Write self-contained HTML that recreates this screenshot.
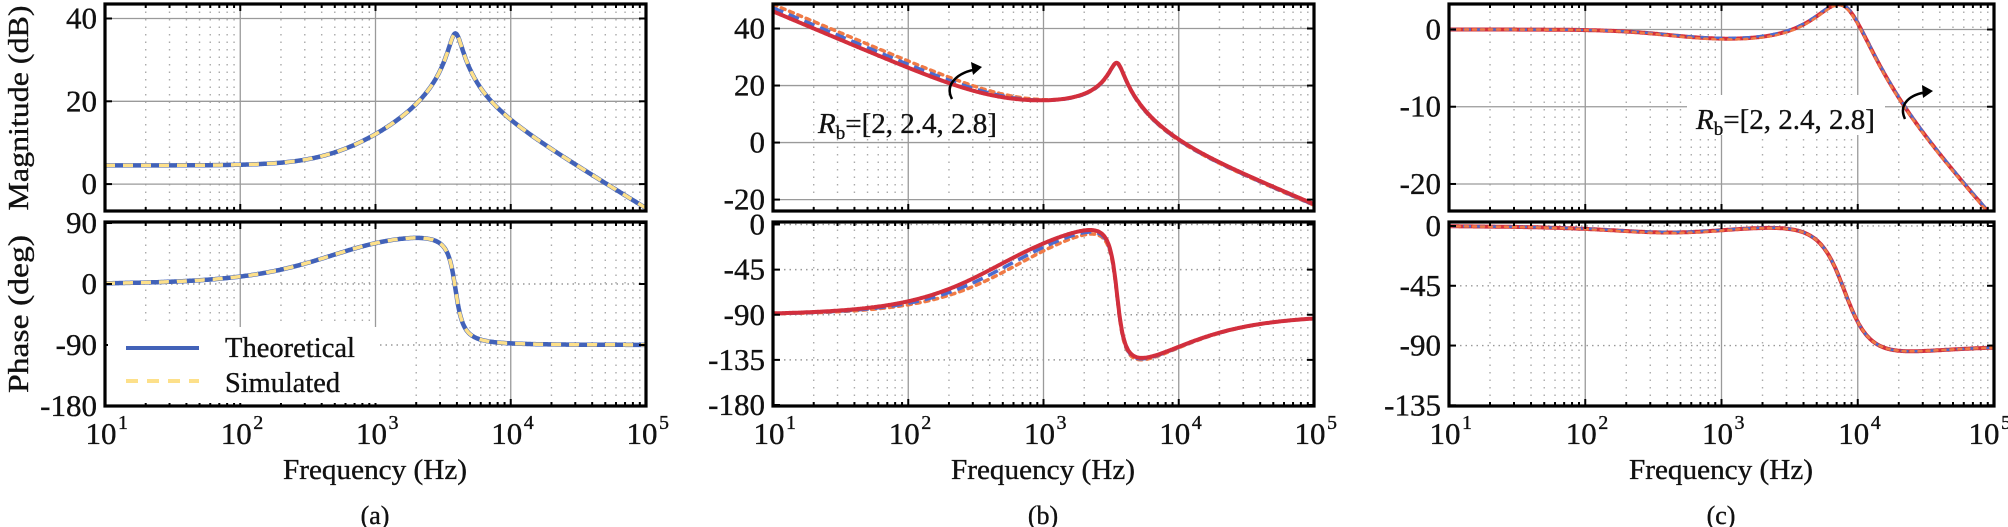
<!DOCTYPE html>
<html><head><meta charset="utf-8">
<style>
html,body{margin:0;padding:0;background:#fff;}
svg{display:block;font-family:"Liberation Serif","Times New Roman","DejaVu Serif","Noto Serif CJK SC",serif;}
svg text{font-family:"Liberation Serif","Times New Roman","DejaVu Serif","Noto Serif CJK SC",serif;fill:#111;stroke:#111;stroke-width:0.35;}
</style></head>
<body>
<svg id="s" width="2008" height="527" xmlns="http://www.w3.org/2000/svg">
<defs>
<clipPath id="ca1"><rect x="105" y="4" width="541" height="207"/></clipPath>
<clipPath id="ca2"><rect x="105" y="222" width="541" height="184"/></clipPath>
<clipPath id="cb1"><rect x="773" y="4" width="541" height="207"/></clipPath>
<clipPath id="cb2"><rect x="773" y="222" width="541" height="184"/></clipPath>
<clipPath id="cc1"><rect x="1449" y="4" width="545" height="207"/></clipPath>
<clipPath id="cc2"><rect x="1449" y="222" width="545" height="184"/></clipPath>
</defs>
<g id="grid"></g>
<g id="curves"></g>
<g id="frames"></g>

<rect x="108" y="327" width="272" height="76" fill="#fff"/>
<line x1="126" y1="348" x2="199" y2="348" stroke="#4262b8" stroke-width="4"/>
<line x1="126" y1="381" x2="199" y2="381" stroke="#fde08a" stroke-width="4" stroke-dasharray="12,9"/>
<text x="225" y="357" font-size="28" textLength="130" lengthAdjust="spacingAndGlyphs">Theoretical</text>
<text x="225" y="392" font-size="28" textLength="115" lengthAdjust="spacingAndGlyphs">Simulated</text>

<text x="818" y="133" font-size="29"><tspan font-style="italic">R</tspan><tspan font-size="19" dy="6">b</tspan><tspan dy="-6">=[2, 2.4, 2.8]</tspan></text>
<path d="M952,99 C944,84 958,72 978,69" fill="none" stroke="#000" stroke-width="2.5"/>
<polygon points="982,67 971,62 973,75" fill="#000"/>
<rect x="1687" y="95" width="198" height="40" fill="#fff"/>
<text x="1696" y="129" font-size="29"><tspan font-style="italic">R</tspan><tspan font-size="19" dy="6">b</tspan><tspan dy="-6">=[2, 2.4, 2.8]</tspan></text>
<path d="M1905,119 C1898,104 1910,94 1928,92" fill="none" stroke="#000" stroke-width="2.5"/>
<polygon points="1933,91 1922,85 1923,98" fill="#000"/>

<text transform="translate(28,108) rotate(-90)" font-size="28" text-anchor="middle" textLength="205" lengthAdjust="spacingAndGlyphs">Magnitude (dB)</text>
<text transform="translate(28,314) rotate(-90)" font-size="28" text-anchor="middle" textLength="158" lengthAdjust="spacingAndGlyphs">Phase (deg)</text>
<text x="375" y="479" font-size="28" text-anchor="middle" textLength="184" lengthAdjust="spacingAndGlyphs">Frequency (Hz)</text>
<text x="1043" y="479" font-size="28" text-anchor="middle" textLength="184" lengthAdjust="spacingAndGlyphs">Frequency (Hz)</text>
<text x="1721" y="479" font-size="28" text-anchor="middle" textLength="184" lengthAdjust="spacingAndGlyphs">Frequency (Hz)</text>
<text x="375" y="524" font-size="26" text-anchor="middle">(a)</text>
<text x="1043" y="524" font-size="26" text-anchor="middle">(b)</text>
<text x="1721" y="524" font-size="26" text-anchor="middle">(c)</text>
<g id="ticks"></g>
</svg>
<script>
(function(){
var NS="http://www.w3.org/2000/svg";
function el(p,t,a){var e=document.createElementNS(NS,t);for(var k in a)e.setAttribute(k,a[k]);p.appendChild(e);return e;}
var grid=document.getElementById('grid'),cur=document.getElementById('curves'),fr=document.getElementById('frames'),tk=document.getElementById('ticks');
var panels=[
 {x0:105,x1:646,top:{y0:4,y1:211,vt:43.5,vb:-6.5,ticks:[40,20,0],solid:true},bot:{y0:222,y1:406,vt:91.5,vb:-180,ticks:[90,0,-90,-180],solid:false},c1:'ca1',c2:'ca2',lx:97},
 {x0:773,x1:1314,top:{y0:4,y1:211,vt:48.6,vb:-24,ticks:[40,20,0,-20],solid:true},bot:{y0:222,y1:406,vt:2.5,vb:-181,ticks:[0,-45,-90,-135,-180],solid:false},c1:'cb1',c2:'cb2',lx:765},
 {x0:1449,x1:1994,top:{y0:4,y1:211,vt:3.3,vb:-23.5,ticks:[0,-10,-20],solid:true},bot:{y0:222,y1:406,vt:3,vb:-135.5,ticks:[0,-45,-90,-135],solid:false},c1:'cc1',c2:'cc2',lx:1441}
];
function X(p,f){return p.x0+(Math.log10(f)-1)/4*(p.x1-p.x0);}
function Y(a,v){return a.y0+(a.vt-v)/(a.vt-a.vb)*(a.y1-a.y0);}
panels.forEach(function(p,pi){
 [p.top,p.bot].forEach(function(a,ai){
  for(var d=1;d<5;d++)for(var m=1;m<10;m++){
   var f=m*Math.pow(10,d);var x=X(p,f);
   if(m==1){ if(d>1) el(grid,'line',{x1:x,y1:a.y0,x2:x,y2:a.y1,stroke:'#9a9a9a','stroke-width':1.3});}
   else el(grid,'line',{x1:x,y1:a.y0,x2:x,y2:a.y1,stroke:'#aaa','stroke-width':1.4,'stroke-dasharray':'1.5,6'});
   var L=(m==1)?7:4;
   el(fr,'line',{x1:x,y1:a.y0,x2:x,y2:a.y0+L,stroke:'#000','stroke-width':2});
   el(fr,'line',{x1:x,y1:a.y1,x2:x,y2:a.y1-L,stroke:'#000','stroke-width':2});
  }
  a.ticks.forEach(function(v){
   var y=Y(a,v);
   if(y>a.y0+2&&y<a.y1-2){
    if(a.solid) el(grid,'line',{x1:p.x0,y1:y,x2:p.x1,y2:y,stroke:'#9a9a9a','stroke-width':1.3});
    else el(grid,'line',{x1:p.x0,y1:y,x2:p.x1,y2:y,stroke:'#999','stroke-width':1.4,'stroke-dasharray':'1.5,4'});
   }
   el(fr,'line',{x1:p.x0,y1:y,x2:p.x0+7,y2:y,stroke:'#000','stroke-width':2});
   el(fr,'line',{x1:p.x1,y1:y,x2:p.x1-7,y2:y,stroke:'#000','stroke-width':2});
   var t=el(tk,'text',{x:p.lx,y:y+10,'font-size':31,'text-anchor':'end'});t.textContent=String(v);
  });
  el(fr,'rect',{x:p.x0,y:a.y0,width:p.x1-p.x0,height:a.y1-a.y0,fill:'none',stroke:'#000','stroke-width':3.2});
 });
 for(var d=1;d<=5;d++){
  var x=X(p,Math.pow(10,d));
  var sh=(d==5&&pi==2)?-6:0;
  var t=el(tk,'text',{x:x-4+sh,y:444,'font-size':31,'text-anchor':'middle'});
  t.textContent='10';
  var s=el(tk,'text',{x:x+13+sh,y:429,'font-size':20});s.textContent=String(d);
 }
});
function C(r,i){return {r:r,i:i};}
function mul(a,b){return C(a.r*b.r-a.i*b.i,a.r*b.i+a.i*b.r);}
function div(a,b){var d=b.r*b.r+b.i*b.i;return C((a.r*b.r+a.i*b.i)/d,(a.i*b.r-a.r*b.i)/d);}
function so(f,f0,Q){var u=f/f0;return C(1-u*u,u/Q);}
function z1(f,fz){return C(1,f/fz);}
var Ha=function(f){return mul(C(1.68,0),div(z1(f,500),so(f,3900,5)));};
function Hb(K,fz){return function(f){var h=div(C(K,0),C(0,f));h=mul(h,z1(f,fz));h=mul(h,z1(f,6800));return div(h,so(f,3500,4.8));};}
function Hc(b,a){return function(f){var h=div(z1(f,a),z1(f,b));h=mul(h,z1(f,9000));return div(h,so(f,8000,1.27));};}
function path(p,a,H,ph){
 var d='',prev=null,off=0;
 for(var i=0;i<=800;i++){
  var f=Math.pow(10,1+4*i/800),h=H(f);
  var v;
  if(ph){var an=Math.atan2(h.i,h.r)*180/Math.PI;
    if(prev!==null){while(an+off-prev>180)off-=360;while(an+off-prev<-180)off+=360;}
    v=an+off;prev=v;}
  else v=20*Math.log10(Math.hypot(h.r,h.i));
  d+=(i?'L':'M')+X(p,f).toFixed(1)+','+Y(a,v).toFixed(1);
 }
 return d;
}
function draw(pi,H,style){
 var p=panels[pi];
 var g1=el(cur,'g',{'clip-path':'url(#'+p.c1+')'}),g2=el(cur,'g',{'clip-path':'url(#'+p.c2+')'});
 var st={fill:'none',stroke:style.c,'stroke-width':style.w,'stroke-linecap':style.cap||'butt'};
 if(style.da)st['stroke-dasharray']=style.da;
 st.d=path(p,p.top,H,false);el(g1,'path',st);
 st.d=path(p,p.bot,H,true);el(g2,'path',st);
}
draw(0,Ha,{c:'#4262b8',w:4.5});
draw(0,Ha,{c:'#fde08a',w:3.5,da:'10,8'});
draw(1,Hb(2650,600),{c:'#f07a45',w:3.5,da:'4,5',cap:'round'});
draw(1,Hb(2300,515),{c:'#4a6cd0',w:3.5,da:'11,6'});
draw(1,Hb(2000,435),{c:'#d22f3d',w:4});
draw(2,Hc(400,480),{c:'#d22f3d',w:4});
draw(2,Hc(405,480),{c:'#4a6cd0',w:2.5,da:'8,6'});
draw(2,Hc(395,480),{c:'#f07a45',w:2.5,da:'3,5',cap:'round'});
})();
</script>
</body></html>
